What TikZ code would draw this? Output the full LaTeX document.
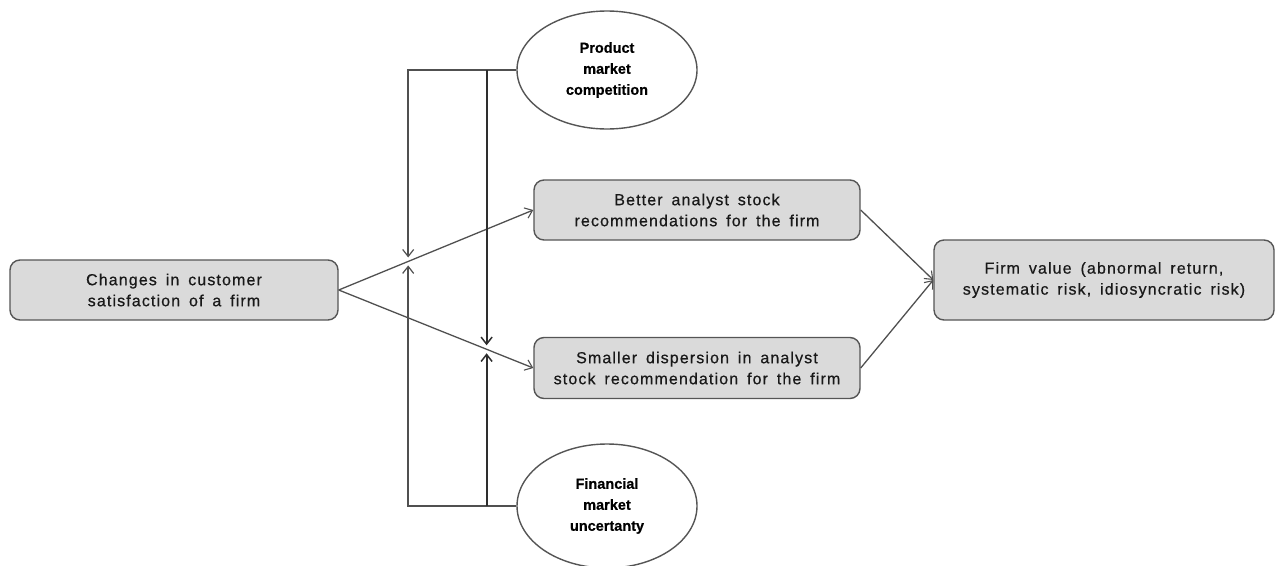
\documentclass[tikz,border=0pt]{standalone}
\usepackage{fontspec}
\setmainfont{Liberation Sans}
\newfontfamily\boxfont[LetterSpace=7,WordSpace=1.6,FakeBold=0.5]{Liberation Sans}
\newfontfamily\modfont[FakeBold=0.6]{Liberation Sans Bold}
\usetikzlibrary{shapes.geometric,arrows.meta}
\definecolor{boxfill}{HTML}{DADADA}
\definecolor{boxline}{HTML}{555555}
\definecolor{linegray}{HTML}{505050}
\definecolor{linedark}{HTML}{2E2E2E}
\tikzset{
  stepbox/.style={draw=boxline, line width=1.4pt, fill=boxfill, rounded corners=10pt,
    align=center, inner sep=2pt, text=black!90,
    font=\boxfont\fontsize{16}{21}\selectfont},
  modbox/.style={draw=boxline, line width=1.4pt, ellipse, fill=white, align=center,
    inner sep=0pt, font=\modfont\fontsize{14.5}{21}\selectfont,
    minimum width=180pt},
  conn/.style={draw=linegray, line width=1.3pt, -{Straight Barb[length=7pt,width=11pt,line width=1.1pt]}},
  modleft/.style={draw=linegray, line width=1.5pt, -{Straight Barb[length=7pt,width=11pt,line width=1.2pt]}, shorten >=4pt},
  modright/.style={draw=linedark, line width=2pt, -{Straight Barb[length=7pt,width=11pt,line width=1.5pt]}, shorten >=4pt},
}
\begin{document}
\begin{tikzpicture}[x=1pt,y=-1pt]
\useasboundingbox (0,0) rectangle (1276,565);
\node[stepbox, minimum width=328pt, minimum height=60pt] (src) at (174,290)
  {Changes in customer\\satisfaction of a firm};
\node[stepbox, minimum width=326pt, minimum height=60pt] (better) at (697,210)
  {Better analyst stock\\recommendations for the firm};
\node[stepbox, minimum width=326pt, minimum height=61pt] (smaller) at (697,368)
  {Smaller dispersion in analyst\\stock recommendation for the firm};
\node[stepbox, minimum width=340pt, minimum height=80pt] (firm) at (1104,280)
  {Firm value (abnormal return,\\systematic risk, idiosyncratic risk)};
\node[modbox, minimum height=118pt] (pmc) at (607,70)
  {Product\\market\\competition};
\node[modbox, minimum height=124pt] (fmu) at (607,506)
  {Financial\\market\\uncertanty};
\path (src.east) -- (better.west) coordinate[pos=0.357] (m1);
\path (src.east) -- (smaller.west) coordinate[pos=0.760] (m2);
\draw[conn] (src.east) -- (better.west);
\draw[conn] (src.east) -- (smaller.west);
\draw[conn] (better.east) -- (firm.west);
\draw[conn] (smaller.east) -- (firm.west);
\draw[modleft] (pmc.west) -| (m1);
\draw[modleft] (fmu.west) -| (m1);
\coordinate (t2) at (pmc.west -| m2);
\coordinate (b2) at (fmu.west -| m2);
\draw[modright] (t2) -- (m2);
\draw[modright] (b2) -- (m2);
\end{tikzpicture}
\end{document}
